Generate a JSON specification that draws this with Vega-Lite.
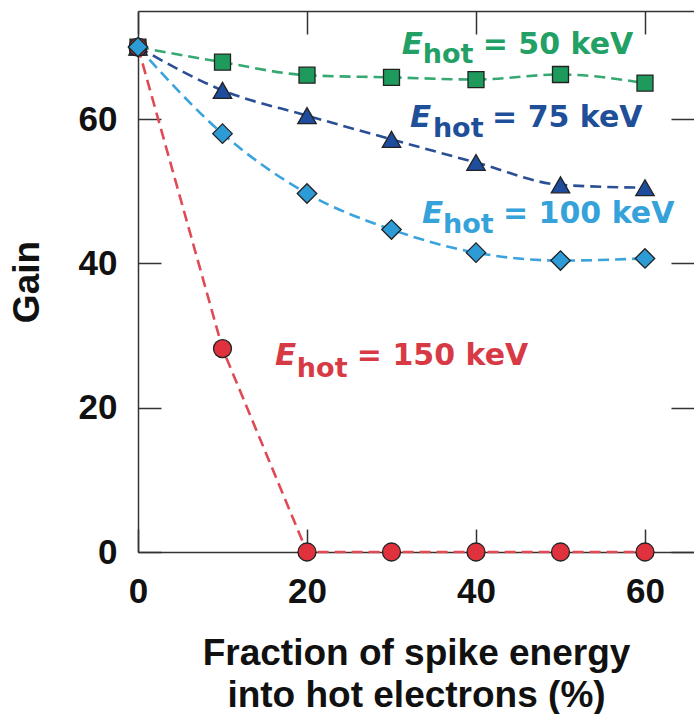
{
  "$schema": "https://vega.github.io/schema/vega-lite/v6.json",
  "width": 556,
  "height": 541,
  "autosize": {"type": "none"},
  "padding": {"left": 138, "top": 11, "right": 0, "bottom": 162},
  "background": "white",
  "config": {
    "view": {"stroke": null},
    "font": "Liberation Sans",
    "axis": {
      "grid": false,
      "domainColor": "#333333",
      "domainWidth": 1.5,
      "tickColor": "#333333",
      "tickWidth": 1.5,
      "labelFont": "Liberation Sans",
      "labelFontSize": 35,
      "labelFontWeight": "bold",
      "labelColor": "#111111",
      "titleFont": "Liberation Sans",
      "titleFontSize": 37,
      "titleFontWeight": "bold",
      "titleColor": "#111111"
    }
  },
  "datasets": {
    "pts": [
      {"series": "50 keV", "x": 0, "y": 70},
      {"series": "50 keV", "x": 10, "y": 67.9},
      {"series": "50 keV", "x": 20, "y": 66.1},
      {"series": "50 keV", "x": 30, "y": 65.8},
      {"series": "50 keV", "x": 40, "y": 65.5},
      {"series": "50 keV", "x": 50, "y": 66.2},
      {"series": "50 keV", "x": 60, "y": 65.0},
      {"series": "75 keV", "x": 0, "y": 70},
      {"series": "75 keV", "x": 10, "y": 64.0},
      {"series": "75 keV", "x": 20, "y": 60.5},
      {"series": "75 keV", "x": 30, "y": 57.2},
      {"series": "75 keV", "x": 40, "y": 54.0},
      {"series": "75 keV", "x": 50, "y": 50.9},
      {"series": "75 keV", "x": 60, "y": 50.5},
      {"series": "150 keV", "x": 0, "y": 70},
      {"series": "150 keV", "x": 10, "y": 28.2},
      {"series": "150 keV", "x": 20, "y": 0},
      {"series": "150 keV", "x": 30, "y": 0},
      {"series": "150 keV", "x": 40, "y": 0},
      {"series": "150 keV", "x": 50, "y": 0},
      {"series": "150 keV", "x": 60, "y": 0},
      {"series": "100 keV", "x": 0, "y": 70},
      {"series": "100 keV", "x": 10, "y": 58.0},
      {"series": "100 keV", "x": 20, "y": 49.7},
      {"series": "100 keV", "x": 30, "y": 44.7},
      {"series": "100 keV", "x": 40, "y": 41.5},
      {"series": "100 keV", "x": 50, "y": 40.4},
      {"series": "100 keV", "x": 60, "y": 40.7}
    ],
    "labels": [
      {"series": "50 keV", "part": "E", "text": "E", "x": 31.2, "y": 69.1},
      {"series": "50 keV", "part": "sub", "text": "hot", "x": 33.7, "y": 67.8},
      {"series": "50 keV", "part": "rest", "text": "= 50 keV", "x": 40.8, "y": 69.1},
      {"series": "75 keV", "part": "E", "text": "E", "x": 32.2, "y": 58.9},
      {"series": "75 keV", "part": "sub", "text": "hot", "x": 34.9, "y": 57.5},
      {"series": "75 keV", "part": "rest", "text": "= 75 keV", "x": 41.9, "y": 58.9},
      {"series": "100 keV", "part": "E", "text": "E", "x": 33.6, "y": 45.6},
      {"series": "100 keV", "part": "sub", "text": "hot", "x": 36.1, "y": 44.2},
      {"series": "100 keV", "part": "rest", "text": "= 100 keV", "x": 43.2, "y": 45.6},
      {"series": "150 keV", "part": "E", "text": "E", "x": 16.2, "y": 25.9},
      {"series": "150 keV", "part": "sub", "text": "hot", "x": 18.8, "y": 24.2},
      {"series": "150 keV", "part": "rest", "text": "= 150 keV", "x": 25.9, "y": 25.9}
    ]
  },
  "layer": [
    {
      "encoding": {
        "x": {
          "field": "x", "type": "quantitative",
          "scale": {"domain": [0, 65.8], "nice": false, "zero": false},
          "axis": {
            "orient": "bottom",
            "values": [0, 20, 40, 60],
            "tickSize": -23,
            "labelPadding": 45,
            "labelFlush": false,
            "title": ["Fraction of spike energy", "into hot electrons (%)"],
            "titleLineHeight": 42,
            "titlePadding": 26
          }
        },
        "y": {
          "field": "y", "type": "quantitative",
          "scale": {"domain": [0, 75], "nice": false},
          "axis": {
            "orient": "left",
            "values": [0, 20, 40, 60],
            "tickSize": -23,
            "labelPadding": 44,
            "labelFlush": false,
            "title": "Gain",
            "titlePadding": 32
          }
        }
      },
      "layer": [
        {
          "data": {"name": "pts"},
          "transform": [{"filter": "datum.series != '150 keV'"}],
          "mark": {"type": "line", "interpolate": "monotone", "strokeDash": [11, 6], "strokeWidth": 2.6},
          "encoding": {
            "stroke": {
              "field": "series", "type": "nominal", "legend": null,
              "scale": {"domain": ["50 keV", "75 keV", "100 keV", "150 keV"], "range": ["#36a872", "#2b4f95", "#3ba3dc", "#e04a55"]}
            }
          }
        },
        {
          "data": {"name": "pts"},
          "transform": [{"filter": "datum.series == '150 keV'"}],
          "mark": {"type": "line", "interpolate": "linear", "strokeDash": [11, 6], "strokeWidth": 2.6},
          "encoding": {
            "stroke": {"field": "series", "type": "nominal", "legend": null}
          }
        },
        {
          "data": {"name": "pts"},
          "mark": {"type": "point", "filled": true, "opacity": 1, "stroke": "#222222", "strokeWidth": 1.3},
          "encoding": {
            "fill": {
              "field": "series", "type": "nominal", "legend": null,
              "scale": {"domain": ["50 keV", "75 keV", "100 keV", "150 keV"], "range": ["#1d9a5c", "#1f4d9e", "#2c9bd6", "#e0323c"]}
            },
            "shape": {
              "field": "series", "type": "nominal", "legend": null,
              "scale": {"domain": ["50 keV", "75 keV", "100 keV", "150 keV"], "range": ["square", "triangle-up", "diamond", "circle"]}
            },
            "size": {
              "field": "series", "type": "nominal", "legend": null,
              "scale": {"type": "ordinal", "domain": ["50 keV", "75 keV", "100 keV", "150 keV"], "range": [256, 340, 380, 324]}
            }
          }
        },
        {
          "data": {"name": "labels"},
          "transform": [{"filter": "datum.part == 'E'"}],
          "mark": {"type": "text", "align": "left", "baseline": "alphabetic", "font": "DejaVu Sans", "fontSize": 31, "fontWeight": "bold", "fontStyle": "italic"},
          "encoding": {
            "text": {"field": "text"},
            "color": {
              "field": "series", "type": "nominal", "legend": null,
              "scale": {"domain": ["50 keV", "75 keV", "100 keV", "150 keV"], "range": ["#22a065", "#1f4f98", "#35a2da", "#d83a45"]}
            }
          }
        },
        {
          "data": {"name": "labels"},
          "transform": [{"filter": "datum.part == 'sub'"}],
          "mark": {"type": "text", "align": "left", "baseline": "alphabetic", "font": "DejaVu Sans", "fontSize": 27, "fontWeight": "bold"},
          "encoding": {
            "text": {"field": "text"},
            "color": {"field": "series", "type": "nominal", "legend": null}
          }
        },
        {
          "data": {"name": "labels"},
          "transform": [{"filter": "datum.part == 'rest'"}],
          "mark": {"type": "text", "align": "left", "baseline": "alphabetic", "font": "DejaVu Sans", "fontSize": 30, "fontWeight": "bold"},
          "encoding": {
            "text": {"field": "text"},
            "color": {"field": "series", "type": "nominal", "legend": null}
          }
        }
      ]
    },
    {
      "data": {"name": "pts"},
      "mark": {"type": "point", "opacity": 0},
      "encoding": {
        "x": {
          "field": "x", "type": "quantitative",
          "scale": {"domain": [0, 65.8], "nice": false, "zero": false},
          "axis": {"orient": "top", "values": [0, 20, 40, 60], "tickSize": -23, "labels": false, "title": null, "domain": true}
        },
        "y": {
          "field": "y", "type": "quantitative",
          "scale": {"domain": [0, 75], "nice": false},
          "axis": {"orient": "right", "values": [0, 20, 40, 60], "tickSize": -23, "labels": false, "title": null, "domain": false}
        }
      }
    }
  ],
  "resolve": {"scale": {"x": "independent", "y": "independent"}, "axis": {"x": "independent", "y": "independent"}}
}
